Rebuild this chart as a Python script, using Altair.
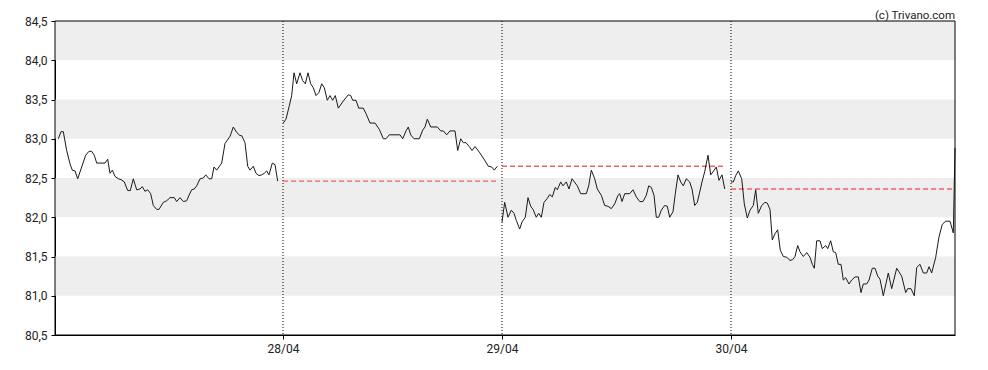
import altair as alt
import pandas as pd

# ---- data ----
day_labels = ["28/04", "29/04", "30/04"]
day_starts = [228, 447, 676]          # session time at which each new day starts
x_end = 900                           # last session time on the axis
y_ticks = [80.5, 81.0, 81.5, 82.0, 82.5, 83.0, 83.5, 84.0, 84.5]
band_low = [81.0, 82.0, 83.0, 84.0]
band_high = [81.5, 82.5, 83.5, 84.5]
credit = "(c) Trivano.com"

day1 = [(3.3, 83.0), (6, 83.09), (8.3, 83.09), (11.7, 82.85), (15, 82.68), (17.3, 82.6), (20, 82.59),
        (22.7, 82.49), (26.7, 82.64), (30.7, 82.79), (34, 82.84), (36.7, 82.84), (39.3, 82.79), (41.7, 82.69),
        (50, 82.69), (52.7, 82.74), (55, 82.56), (57.3, 82.6), (60, 82.52), (63.3, 82.49), (66, 82.48),
        (69.3, 82.45), (72.7, 82.34), (75.3, 82.34), (78.3, 82.49), (81.7, 82.35), (85, 82.36), (87.3, 82.39),
        (90, 82.33), (92.7, 82.35), (95.7, 82.3), (98.3, 82.15), (101.7, 82.1), (104, 82.1), (108.3, 82.19),
        (111.7, 82.21), (115, 82.25), (119.3, 82.25), (121.7, 82.2), (125, 82.25), (128.3, 82.2), (131.7, 82.21),
        (134, 82.28), (136.7, 82.35), (139.3, 82.36), (141.7, 82.4), (145, 82.49), (148.3, 82.5), (150.7, 82.54),
        (154, 82.49), (156.7, 82.49), (159, 82.64), (161.7, 82.6), (166.7, 82.69), (170, 82.94), (175, 83.03),
        (178.3, 83.15), (181.7, 83.08), (185, 83.04), (186.7, 83.04), (190, 82.95), (192.7, 82.65), (195, 82.6),
        (198.3, 82.65), (201, 82.56), (204, 82.53), (206.7, 82.54), (209.3, 82.56), (211.7, 82.59), (214, 82.54),
        (217.3, 82.69), (220, 82.67), (222.7, 82.46)]

day2 = [(228.3, 83.2), (231, 83.25), (234.3, 83.42), (236.7, 83.55), (239, 83.84), (241.7, 83.7), (245, 83.84),
        (247.7, 83.74), (250.3, 83.7), (253, 83.84), (255.7, 83.7), (258.3, 83.65), (261, 83.55), (264, 83.59),
        (266.7, 83.7), (269.3, 83.65), (272.3, 83.49), (275, 83.55), (277.7, 83.49), (280.3, 83.55), (283.3, 83.39),
        (288.3, 83.48), (293.3, 83.56), (295.7, 83.55), (297.7, 83.49), (301, 83.49), (303.7, 83.39), (308.3, 83.39),
        (311, 83.32), (315, 83.2), (320, 83.2), (324.3, 83.12), (328.3, 83.0), (331, 83.0), (334.3, 83.05),
        (345, 83.05), (347.7, 83.0), (351, 83.1), (353.3, 83.15), (355.7, 83.05), (359, 83.0), (364.3, 83.0),
        (367.7, 83.11), (370, 83.15), (372.3, 83.25), (375.7, 83.15), (382.3, 83.15), (385.7, 83.1), (388.3, 83.1),
        (391.7, 83.05), (395, 83.1), (400, 83.1), (402.7, 82.85), (405.7, 83.0), (408.3, 82.95), (411, 82.95),
        (414.3, 82.9), (417, 82.85), (420, 82.9), (424.3, 82.83), (429, 82.74), (433.3, 82.65), (436.7, 82.64),
        (439.3, 82.6), (442.3, 82.65)]

day3 = [(447, 81.94), (449.7, 82.19), (453, 82.0), (456.3, 82.09), (459, 82.05), (461.3, 81.96), (464.7, 81.85),
        (467, 81.94), (470.3, 82.0), (473, 82.25), (475.7, 82.14), (478, 82.1), (481.3, 82.0), (483.7, 82.05),
        (486.3, 82.0), (489, 82.19), (492.3, 82.24), (494.7, 82.29), (497.3, 82.26), (500.3, 82.38), (502.3, 82.35),
        (505.7, 82.45), (508, 82.4), (511.3, 82.45), (514, 82.36), (517, 82.49), (522.3, 82.4), (525.7, 82.3),
        (531.3, 82.3), (533.7, 82.4), (536.3, 82.6), (539.7, 82.49), (542.3, 82.36), (546.3, 82.28), (549.7, 82.15),
        (553, 82.14), (556.3, 82.11), (559.7, 82.17), (563, 82.28), (564.7, 82.3), (567, 82.2), (569.7, 82.3),
        (574.7, 82.3), (578, 82.35), (581.3, 82.26), (584.7, 82.2), (588, 82.2), (591.3, 82.28), (593.7, 82.4),
        (596.3, 82.38), (599, 82.28), (601.3, 82.0), (603.7, 82.0), (606.3, 82.09), (609.7, 82.15), (612.3, 82.14),
        (614.7, 82.0), (618, 82.07), (620.3, 82.3), (623, 82.54), (625.7, 82.45), (628.3, 82.4), (631.3, 82.49),
        (634.7, 82.45), (637, 82.36), (639.7, 82.15), (642.3, 82.19), (644.7, 82.32), (647, 82.45), (649.7, 82.58),
        (653, 82.79), (655.7, 82.54), (658, 82.58), (661.3, 82.64), (664, 82.47), (667, 82.54), (669.7, 82.36)]

day4 = [(676, 82.45), (678.3, 82.45), (680.7, 82.53), (683.3, 82.59), (686.7, 82.49), (689.3, 82.17), (692.3, 81.99),
        (695, 82.09), (698.3, 82.15), (700.7, 82.35), (703.3, 82.05), (706.7, 82.15), (710, 82.19), (712.3, 82.18),
        (715, 82.1), (717.3, 81.71), (720, 81.79), (722.7, 81.84), (725.3, 81.58), (728.3, 81.5), (731.7, 81.49),
        (735, 81.45), (737.7, 81.46), (740, 81.5), (742.7, 81.64), (745, 81.56), (748.3, 81.5), (751.7, 81.55),
        (755, 81.49), (757.3, 81.4), (759.3, 81.35), (761.7, 81.7), (765, 81.7), (767.3, 81.6), (770.7, 81.64),
        (772.7, 81.6), (775.7, 81.7), (778.3, 81.56), (780.7, 81.55), (783.3, 81.4), (786, 81.4), (788.3, 81.2),
        (790.7, 81.23), (794, 81.15), (796.7, 81.2), (800, 81.24), (803.3, 81.24), (806, 81.04), (808.3, 81.15),
        (811.7, 81.15), (814, 81.2), (817.3, 81.35), (820, 81.35), (822.7, 81.25), (825, 81.21), (828.3, 81.0),
        (833.3, 81.29), (836.7, 81.09), (841.7, 81.35), (846.7, 81.25), (850.7, 81.04), (852.7, 81.09),
        (856, 81.09), (859.3, 81.0), (861.7, 81.36), (865, 81.4), (868.3, 81.29), (871.7, 81.29), (874, 81.37),
        (876.7, 81.29), (880.7, 81.49), (884, 81.75), (887.3, 81.91), (890.7, 81.95), (895, 81.95), (898.3, 81.8),
        (900, 82.88)]

days = [day1, day2, day3, day4]

# ---- tables ----
line_df = pd.DataFrame(
    [{"t": t, "v": v, "day": d} for d, pts in enumerate(days) for t, v in pts]
)
# previous close lines: from the day's start to its last point, at the prior day's close
ref_df = pd.DataFrame(
    [{"t0": day_starts[d - 1], "t1": days[d][-1][0], "v": days[d - 1][-1][1]} for d in range(1, len(days))]
)
band_df = pd.DataFrame({"lo": band_low, "hi": band_high, "x0": [0] * len(band_low), "x1": [x_end] * len(band_low)})
frame_df = pd.DataFrame({"lo": [y_ticks[0]], "hi": [y_ticks[-1]], "x0": [0], "x1": [x_end]})
day_df = pd.DataFrame({"t": day_starts, "label": day_labels})
credit_df = pd.DataFrame({"text": [credit]})

label_expr = " : ".join(
    f"datum.value == {s} ? '{l}'" for s, l in zip(day_starts, day_labels)
) + " : ''"

x_scale = alt.Scale(domain=[0, x_end], nice=False, zero=False)
y_scale = alt.Scale(domain=[y_ticks[0], y_ticks[-1]], nice=False, zero=False)

x_axis = alt.Axis(values=day_starts, labelExpr=label_expr, grid=False, title=None,
                  tickSize=4, labelPadding=4)
y_axis = alt.Axis(values=y_ticks, labelExpr="replace(format(datum.value, '.1f'), '.', ',')",
                  grid=False, title=None, tickSize=4, labelPadding=4)

bands = alt.Chart(band_df).mark_rect(color="#eeeeee").encode(
    x=alt.X("x0:Q", scale=x_scale, axis=x_axis),
    x2="x1:Q",
    y=alt.Y("lo:Q", scale=y_scale, axis=y_axis),
    y2="hi:Q",
)

day_rules = alt.Chart(day_df).mark_rule(color="#000000", strokeWidth=1, strokeDash=[1, 2]).encode(
    x=alt.X("t:Q", scale=x_scale, axis=x_axis),
)

ref_lines = alt.Chart(ref_df).mark_rule(color="#ff4d4d", strokeWidth=1.3, strokeDash=[5, 3], opacity=0.9).encode(
    x=alt.X("t0:Q", scale=x_scale, axis=x_axis),
    x2="t1:Q",
    y=alt.Y("v:Q", scale=y_scale, axis=y_axis),
)

price = alt.Chart(line_df).mark_line(color="#1a1a1a", strokeWidth=1).encode(
    x=alt.X("t:Q", scale=x_scale, axis=x_axis),
    y=alt.Y("v:Q", scale=y_scale, axis=y_axis),
    detail="day:N",
)

frame = alt.Chart(frame_df).mark_rect(fill=None, stroke="#000000", strokeWidth=1).encode(
    x=alt.X("x0:Q", scale=x_scale, axis=x_axis),
    x2="x1:Q",
    y=alt.Y("lo:Q", scale=y_scale, axis=y_axis),
    y2="hi:Q",
)

credit_text = alt.Chart(credit_df).mark_text(
    align="right", baseline="top", font="Roboto", fontSize=11.5, color="#222222"
).encode(
    text="text:N",
    x=alt.value(900),
    y=alt.value(-11),
)

chart = alt.layer(bands, day_rules, ref_lines, price, frame, credit_text).properties(
    width=900,
    height=314,
    autosize=alt.AutoSizeParams(type="none"),
    padding={"left": 47, "top": 13, "right": 25, "bottom": 25},
).configure_view(
    stroke=None
).configure_axis(
    domainColor="#000000", tickColor="#000000", labelFont="Roboto", labelFontSize=12,
    labelColor="#222222", domainWidth=1,
)

chart.save("out.html", embed_options={"renderer": "svg", "actions": False})
